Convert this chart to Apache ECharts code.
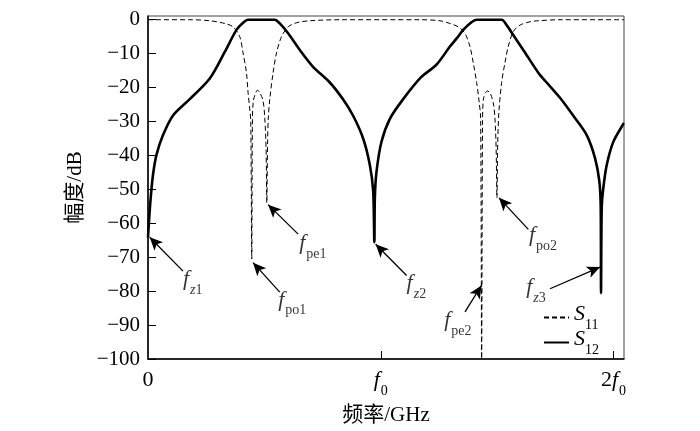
<!DOCTYPE html>
<html>
<head>
<meta charset="utf-8">
<script src="https://cdn.jsdelivr.net/npm/echarts@6/dist/echarts.min.js"></script>
<style>
html,body{margin:0;padding:0;background:#fff;}
#main{width:700px;height:431px;}
</style>
</head>
<body>
<div id="main"></div>
<script>
// frequency in units of f0, magnitude in dB
var s12Freq = [0, 0.0043, 0.0116, 0.0215, 0.0361, 0.0645, 0.1075, 0.1793, 0.2653, 0.3297, 0.3801, 0.4084, 0.4299, 0.5447, 0.5662, 0.6019, 0.6522, 0.7081, 0.7812, 0.8371, 0.8813, 0.9243, 0.9531, 0.9673, 0.9725, 0.9746, 0.9819, 1.0034, 1.0391, 1.0963, 1.1724, 1.2399, 1.2971, 1.3259, 1.3543, 1.3831, 1.4119, 1.5193, 1.5408, 1.5692, 1.6122, 1.6767, 1.7128, 1.7700, 1.8272, 1.8848, 1.9205, 1.9390, 1.9450, 1.9463, 1.9493, 1.9561, 1.9708, 1.9991, 2.0421, 2.045];
var s12Mag = [-64.2, -59.3, -52.5, -45.7, -39.9, -34, -28.2, -23.4, -17.3, -9.5, -3, -0.9, 0, 0, -1.1, -4, -8.9, -13.8, -18.5, -23.4, -28.3, -35, -42.8, -50.4, -65.6, -52.5, -44.7, -35.9, -29.2, -23.4, -17, -13.2, -7.9, -5.5, -3, -1.1, 0, 0, -1.6, -4.5, -8.9, -15.6, -18.5, -23, -28.3, -34, -40.8, -47.6, -55.4, -80.6, -55.4, -49.6, -42.8, -36, -30.7, -30.5];

var s11Freq = [0, 0.1793, 0.2653, 0.3297, 0.3654, 0.3942, 0.4084, 0.4230, 0.4299, 0.4372, 0.4415, 0.4458, 0.4484, 0.4523, 0.4660, 0.4716, 0.4802, 0.4944, 0.5017, 0.5073, 0.5103, 0.5138, 0.5168, 0.5232, 0.5374, 0.5520, 0.5735, 0.6019, 0.6380, 0.6952, 0.8241, 1.1681, 1.2541, 1.2971, 1.3328, 1.3616, 1.3831, 1.3973, 1.4119, 1.4230, 1.4291, 1.4334, 1.4372, 1.4411, 1.4574, 1.4691, 1.4832, 1.4905, 1.4957, 1.4991, 1.5026, 1.5077, 1.5193, 1.5335, 1.5477, 1.5692, 1.5980, 1.6410, 1.6767, 1.7700, 2.045];
var s11Mag = [0, 0, -0.3, -1.1, -2.1, -5, -9.8, -15.6, -21.5, -26.3, -30, -70.5, -32, -24, -21, -20.8, -21.5, -23.9, -29, -38, -54, -36, -29, -23.4, -15.6, -9.8, -5, -2.1, -0.9, -0.3, 0, 0, -0.3, -1.1, -2.1, -4, -7.9, -12.7, -18.5, -24.4, -29, -100, -31, -23.4, -21, -21.5, -24.4, -29, -38, -52.5, -36, -27, -18.5, -12.7, -7.9, -3.5, -1.6, -0.6, -0.3, 0, 0];

var yTicks = [0, -10, -20, -30, -40, -50, -60, -70, -80, -90, -100];
var xTicks = [0, 1, 2];
var xTickLabels = {0: '{n|0}', 1: '{i|f}{s|0}', 2: '{n|2}{i|f}{s|0}'};

// arrow annotations: label text, label centre, arrow tail, arrow tip (data units)
var noteNames = ['z1', 'po1', 'pe1', 'z2', 'pe2', 'po2', 'z3'];
var noteLabel = [[0.192, -76.4], [0.620, -82.4], [0.708, -65.8], [1.153, -77.5], [1.331, -88.5], [1.697, -63.5], [1.667, -78.8]];
var noteTail = [[0.1505, -74.1], [0.566, -80.3], [0.645, -63.2], [1.111, -75.4], [1.362, -86.1], [1.634, -61.8], [1.727, -79.3]];
var noteTip = [[0.0073, -64.1], [0.4514, -71.6], [0.516, -54.5], [0.978, -66.2], [1.433, -78.3], [1.508, -52.5], [1.942, -72.9]];

var serif = "'Liberation Serif', 'Noto Sans CJK SC', serif";

function zip(a, b) {
  var out = [];
  for (var i = 0; i < a.length; i++) out.push([a[i], b[i]]);
  return out;
}

var subRich = {
  i: {fontFamily: serif, fontSize: 22, fontStyle: 'italic', color: '#000', padding: [0, 1, 7, 0], verticalAlign: 'bottom'},
  s: {fontFamily: serif, fontSize: 14, color: '#000', verticalAlign: 'bottom'},
  n: {fontFamily: serif, fontSize: 22, color: '#000', padding: [0, 0, 7, 0], verticalAlign: 'bottom'}
};

var myChart = echarts.init(document.getElementById('main'));
var option = {
  backgroundColor: '#fff',
  animation: false,
  grid: {
    left: 148, right: 76, top: 16, bottom: 68,
    show: true, borderColor: '#444', borderWidth: 1
  },
  legend: {
    data: ['S11', 'S12'],
    orient: 'vertical',
    left: 538, top: 298,
    itemWidth: 25, itemHeight: 10, itemGap: -4,
    itemStyle: {color: 'rgba(0,0,0,0)', borderWidth: 0},
    formatter: function (name) {
      return '{c|S}{s|' + name.slice(1) + '}';
    },
    textStyle: {
      rich: {
        c: {fontFamily: serif, fontSize: 22, fontStyle: 'italic', color: '#000', padding: [0, 0, 7, 0], verticalAlign: 'bottom'},
        s: {fontFamily: serif, fontSize: 14, color: '#000', verticalAlign: 'bottom'}
      }
    }
  },
  xAxis: {
    type: 'value',
    min: 0, max: 2.045,
    name: '频率/GHz',
    nameLocation: 'middle',
    nameGap: 46,
    nameTextStyle: {fontFamily: serif, fontSize: 21, color: '#000'},
    axisLine: {onZero: false, lineStyle: {color: '#000', width: 1.5}},
    axisTick: {inside: true, length: 8, customValues: [1, 2], lineStyle: {color: '#000'}},
    axisLabel: {
      margin: 10,
      customValues: xTicks,
      formatter: function (v) { return xTickLabels[v] !== undefined ? xTickLabels[v] : ''; },
      fontFamily: serif, fontSize: 22, color: '#000',
      rich: subRich
    },
    splitLine: {show: false}
  },
  yAxis: {
    type: 'value',
    min: -100, max: 1.1,
    name: '幅度/dB',
    nameLocation: 'middle',
    nameGap: 56,
    nameTextStyle: {fontFamily: serif, fontSize: 21, color: '#000'},
    axisLine: {onZero: false, lineStyle: {color: '#000', width: 1.5}},
    axisTick: {inside: true, length: 8, customValues: yTicks, lineStyle: {color: '#000'}},
    axisLabel: {
      margin: 8,
      customValues: yTicks,
      fontFamily: serif, fontSize: 21, color: '#000',
      formatter: function (v) {
        return v < 0 ? '\u2212' + (-v) : String(v);
      }
    },
    splitLine: {show: false}
  },
  series: [
    {
      name: 'S11',
      type: 'line',
      data: zip(s11Freq, s11Mag),
      symbol: 'none',
      smooth: 0.3,
      lineStyle: {color: '#000', width: 1, type: [5, 3]},
      itemStyle: {color: '#000'}
    },
    {
      name: 'S12',
      type: 'line',
      data: zip(s12Freq, s12Mag),
      symbol: 'none',
      smooth: 0.3,
      lineStyle: {color: '#000', width: 2.6},
      itemStyle: {color: '#000'}
    },
    {
      name: 'notes',
      type: 'scatter',
      symbolSize: 0,
      silent: true,
      data: noteNames.map(function (n, i) {
        return {name: n, value: noteLabel[i]};
      }),
      label: {
        show: true,
        position: 'inside',
        offset: [0, 4],
        formatter: function (p) {
          var n = p.name;
          if (n.charAt(0) === 'z') return '{i|f}{zi|z}{s|' + n.slice(1) + '}';
          return '{i|f}{s|' + n + '}';
        },
        rich: {
          i: subRich.i,
          s: subRich.s,
          zi: {fontFamily: serif, fontSize: 14, fontStyle: 'italic', color: '#000', verticalAlign: 'bottom'}
        }
      },
      markLine: {
        silent: true,
        symbol: ['none', 'arrow'],
        symbolSize: [9, 13],
        label: {show: false},
        lineStyle: {color: '#000', width: 1.3, type: 'solid'},
        data: noteTail.map(function (t, i) {
          return [{coord: t}, {coord: noteTip[i]}];
        })
      }
    }
  ]
};
myChart.setOption(option);
</script>
</body>
</html>
